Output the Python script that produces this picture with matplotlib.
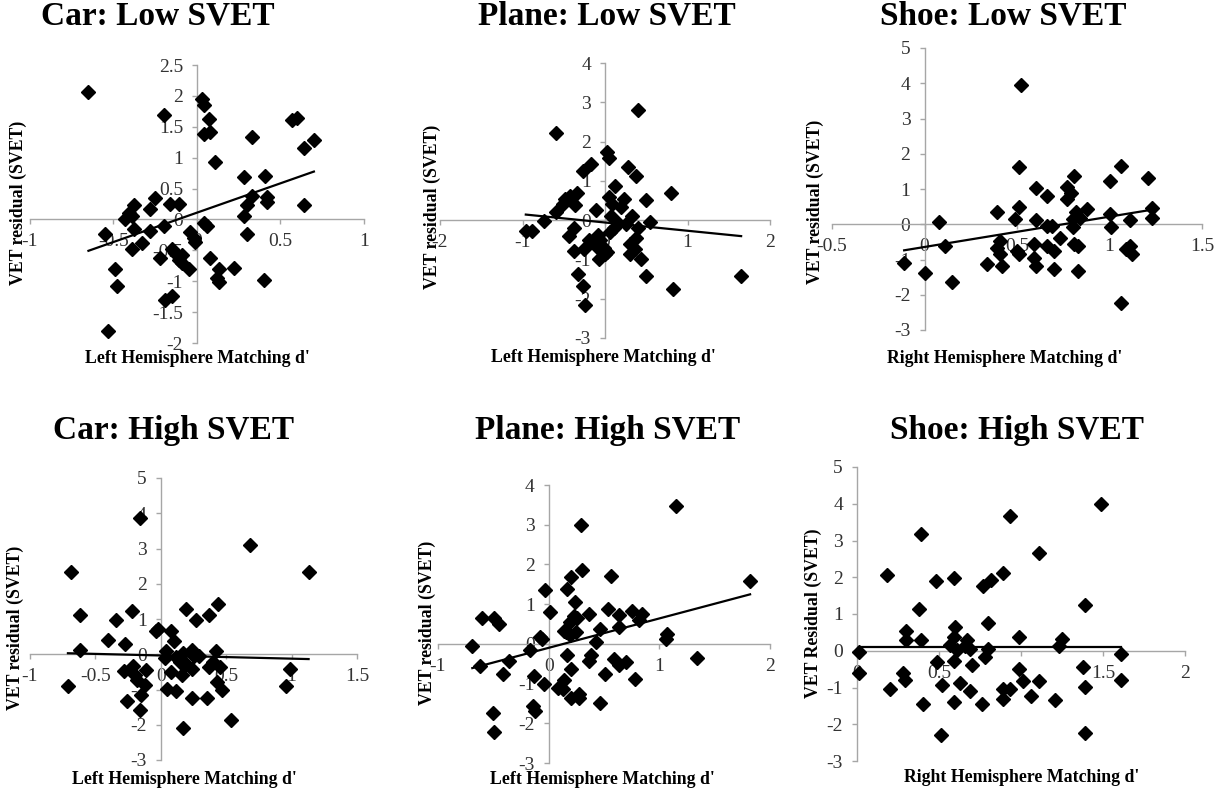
import matplotlib.pyplot as plt
import numpy as np
from matplotlib.ticker import FuncFormatter, MultipleLocator

plt.rcParams['font.family'] = ['Liberation Serif', 'DejaVu Serif']
plt.rcParams['axes.unicode_minus'] = False

W, H = 1220, 793

# --- Car, low SVET ---
car_low_x = [-0.65, -0.20, 0.03, 0.04, 0.07, 0.04, 0.08, 0.11, 0.57, 0.60, 0.64, 0.70,
             0.33, 0.28, 0.41, 0.33, 0.30, 0.28, 0.42, 0.42, 0.64, 0.30, 0.40, 0.22,
             0.13, 0.12, 0.13, 0.08, 0.04, 0.06, -0.01, -0.02, -0.04, -0.05, -0.09, -0.09,
             -0.13, -0.11, -0.15, -0.15, -0.19, -0.11, -0.16, -0.20, -0.22, -0.25, -0.28, -0.28,
             -0.33, -0.38, -0.38, -0.39, -0.43, -0.39, -0.41, -0.55, -0.49, -0.48, -0.53]
car_low_y = [2.07, 1.69, 1.95, 1.85, 1.63, 1.38, 1.41, 0.93, 1.61, 1.65, 1.16, 1.28,
             1.34, 0.68, 0.71, 0.38, 0.23, 0.06, 0.37, 0.29, 0.23, -0.24, -0.98, -0.79,
             -0.81, -0.94, -1.01, -0.63, -0.06, -0.10, -0.36, -0.30, -0.21, -0.81, -0.71, -0.57,
             -0.54, -0.65, -0.48, -1.24, -1.30, 0.25, 0.25, -0.11, -0.62, 0.34, 0.17, -0.18,
             -0.38, 0.24, -0.16, 0.05, 0.00, -0.48, 0.10, -0.23, -0.81, -1.08, -1.80]
car_low_fit = (0.95, 0.11)

# --- Plane, low SVET ---
plane_low_x = [-0.59, 0.40, 0.03, 0.05, -0.17, -0.27, 0.28, 0.37, 0.12, 0.80, 0.50, -0.34,
               -0.42, -0.48, -0.51, -0.59, -0.36, -0.11, 0.05, 0.09, 0.23, 0.19, 0.07, 0.33,
               -0.74, -0.96, -0.89, -0.38, -0.44, -0.38, -0.26, -0.20, -0.09, -0.10, -0.07, -0.01,
               0.03, 0.06, 0.11, 0.16, 0.25, 0.40, 0.54, 0.37, 0.30, 0.36, 0.30, 0.44,
               0.50, -0.33, -0.27, -0.24, 0.82, 1.65, -0.06, 0.00]
plane_low_y = [2.21, 2.81, 1.73, 1.57, 1.43, 1.25, 1.34, 1.13, 0.88, 0.70, 0.51, 0.70,
               0.62, 0.55, 0.41, 0.20, 0.38, 0.26, 0.60, 0.41, 0.53, 0.34, 0.11, 0.11,
               -0.03, -0.27, -0.27, -0.21, -0.40, -0.78, -0.74, -0.51, -0.38, -0.68, -0.98, -0.72,
               -0.81, -0.30, -0.21, -0.07, -0.10, -0.19, -0.04, -0.45, -0.61, -0.74, -0.85, -0.99,
               -1.42, -1.38, -1.68, -2.17, -1.74, -1.42, -0.51, -0.85]
plane_low_fit = (-0.21, -0.06)

# --- Shoe, low SVET ---
shoe_low_x = [0.52, 0.51, 1.06, 1.21, 1.00, 0.81, 0.77, 0.79, 0.77, 0.60, 0.66, 0.51,
              0.39, 0.49, 0.60, 0.08, 0.88, 0.82, 0.84, 0.80, 0.80, 1.00, 1.01, 1.23,
              1.23, 1.11, 0.66, 0.69, 0.73, 0.83, 0.81, 0.11, 0.41, 0.39, 0.41, 0.42,
              0.34, 0.51, 0.59, 0.66, 0.70, 0.59, 0.60, 0.70, 0.83, 1.09, 1.11, 1.12,
              1.06, 0.00, -0.11, 0.15, 0.50]
shoe_low_y = [3.95, 1.61, 1.64, 1.31, 1.23, 1.37, 1.07, 0.90, 0.73, 1.04, 0.80, 0.50,
              0.36, 0.14, 0.12, 0.05, 0.43, 0.36, 0.19, 0.14, -0.09, 0.28, -0.07, 0.45,
              0.19, 0.12, -0.05, -0.05, -0.38, -0.62, -0.55, -0.62, -0.47, -0.66, -0.85, -1.18,
              -1.12, -0.85, -0.57, -0.62, -0.76, -0.95, -1.18, -1.28, -1.34, -0.71, -0.62, -0.85,
              -2.24, -1.39, -1.09, -1.64, -0.76]
shoe_low_fit = (0.86, -0.645)

# --- Car, high SVET ---
car_high_x = [-0.16, 0.68, 1.13, -0.69, -0.62, -0.22, -0.34, -0.40, -0.27, -0.62, -0.04, -0.02,
              0.08, 0.10, 0.19, 0.27, 0.37, 0.44, 0.04, 0.03, 0.12, 0.17, 0.24, 0.29,
              0.42, 0.15, 0.24, 0.08, 0.16, 0.37, 0.40, 0.45, 0.43, 0.47, 0.05, 0.12,
              0.24, 0.35, 0.17, 0.54, 0.99, 0.96, -0.71, -0.28, -0.21, -0.11, -0.18, -0.12,
              -0.20, -0.15, -0.26, -0.16, 0.25, 0.19]
car_high_y = [3.87, 3.09, 2.33, 2.33, 1.11, 1.24, 0.96, 0.40, 0.30, 0.13, 0.67, 0.72,
              0.67, 0.37, 1.27, 0.98, 1.11, 1.43, 0.10, -0.10, -0.08, 0.04, 0.11, -0.06,
              0.09, -0.22, -0.41, -0.50, -0.58, -0.37, -0.22, -0.37, -0.79, -1.00, -0.98, -1.05,
              -1.24, -1.24, -2.09, -1.86, -0.42, -0.91, -0.91, -0.48, -0.34, -0.45, -0.72, -0.86,
              -0.60, -1.17, -1.34, -1.57, -0.06, -0.29]
car_high_fit = (-0.09, -0.035)

# --- Plane, high SVET ---
plane_high_x = [1.15, 0.29, 0.30, 0.56, 0.20, 0.17, -0.03, 1.82, 0.24, 0.01, 0.36, 0.54,
                0.64, 0.75, 0.84, 0.82, -0.60, -0.49, -0.45, 0.19, 0.23, 0.26, 0.16, 0.19,
                0.25, 0.14, 0.46, 0.64, 0.43, -0.08, -0.06, -0.69, -0.17, -0.36, -0.62, 0.17,
                0.38, 0.36, 0.59, 0.64, 0.70, 1.06, 1.07, 1.34, 0.20, -0.41, -0.13, 0.51,
                0.78, 0.14, -0.04, 0.08, 0.13, 0.27, 0.20, 0.27, 0.46, -0.14, -0.12, -0.50,
                -0.49]
plane_high_y = [3.46, 3.00, 1.85, 1.72, 1.68, 1.37, 1.35, 1.58, 1.05, 0.80, 0.76, 0.89,
                0.72, 0.82, 0.74, 0.61, 0.65, 0.65, 0.49, 0.54, 0.70, 0.64, 0.29, 0.22,
                0.29, 0.32, 0.38, 0.43, 0.05, 0.18, 0.11, -0.06, -0.16, -0.42, -0.56, -0.27,
                -0.29, -0.44, -0.39, -0.52, -0.45, 0.11, 0.26, -0.35, -0.63, -0.77, -0.81, -0.77,
                -0.88, -0.90, -1.01, -1.11, -1.13, -1.25, -1.37, -1.37, -1.50, -1.57, -1.69, -1.74,
                -2.21]
plane_high_fit = (0.74, -0.10)

# --- Shoe, high SVET ---
shoe_high_x = [1.49, 0.93, 0.39, 1.11, 0.18, 0.48, 0.59, 0.89, 0.82, 0.77, 0.38, 1.39,
               0.80, 0.30, 0.30, 0.39, 0.60, 0.59, 0.57, 0.61, 0.67, 0.69, 0.66, 0.80,
               0.99, 1.25, 1.23, 0.01, 1.61, 0.78, 0.49, 0.59, 0.70, 0.01, 0.28, 0.29,
               0.20, 0.52, 0.63, 0.69, 0.99, 1.01, 1.11, 1.38, 1.61, 1.39, 0.89, 0.93,
               0.89, 1.06, 1.21, 0.40, 0.59, 0.76, 0.51, 1.39]
shoe_high_y = [3.98, 3.66, 3.18, 2.66, 2.05, 1.91, 1.99, 2.12, 1.93, 1.75, 1.14, 1.25,
               0.75, 0.53, 0.30, 0.28, 0.64, 0.37, 0.15, 0.01, 0.28, 0.04, 0.12, 0.04,
               0.37, 0.33, 0.12, -0.04, -0.08, -0.17, -0.31, -0.28, -0.38, -0.60, -0.60, -0.79,
               -1.03, -0.93, -0.87, -1.10, -0.49, -0.83, -0.81, -0.43, -0.79, -0.99, -1.03, -1.03,
               -1.32, -1.24, -1.33, -1.44, -1.40, -1.44, -2.28, -2.23]
shoe_high_fit = (0.0, 0.10)

AXIS_GREY = '#a6a6a6'


def fig_box(x0, y0, x1, y1):
    # pixel box (top-left origin) -> figure fraction rectangle
    return [x0 / W, 1 - y1 / H, (x1 - x0) / W, (y1 - y0) / H]


def fig_text(fig, x, y, s, **kw):
    fig.text(x / W, 1 - y / H, s, ha='center', va='center', **kw)


def draw_panel(fig, box, xs, ys, fit, xlim, ylim, xstep, ystep, title, title_xy,
               xlabel, xlabel_xy, ylabel, ylabel_xy):
    ax = fig.add_axes(fig_box(*box))
    ax.set_xlim(*xlim)
    ax.set_ylim(*ylim)
    for side in ('top', 'right'):
        ax.spines[side].set_visible(False)
    for side in ('left', 'bottom'):
        ax.spines[side].set_position(('data', 0))
        ax.spines[side].set_color(AXIS_GREY)
        ax.spines[side].set_linewidth(1.0)
    ax.xaxis.set_major_locator(MultipleLocator(xstep))
    ax.yaxis.set_major_locator(MultipleLocator(ystep))
    fmt = FuncFormatter(lambda v, p: f'{v:g}')
    ax.xaxis.set_major_formatter(fmt)
    ax.yaxis.set_major_formatter(fmt)
    ax.tick_params(direction='out', length=3.6, width=1.0, color=AXIS_GREY,
                   labelsize=14, labelcolor='#333333', pad=6.5)
    ax.patch.set_alpha(0)

    ax.plot(xs, ys, ls='none', marker='D', ms=7.0, color='black', zorder=3, clip_on=False)

    # linear trend line across the range of the data
    slope, intercept = fit
    fx = np.array([min(xs), max(xs)])
    ax.plot(fx, slope * fx + intercept, color='black', lw=1.6, zorder=4)

    fig_text(fig, *title_xy, title, fontsize=24, fontweight='bold')
    fig_text(fig, *xlabel_xy, xlabel, fontsize=12.8, fontweight='bold')
    fig_text(fig, *ylabel_xy, ylabel, fontsize=12.8, fontweight='bold', rotation=90)
    return ax


fig = plt.figure(figsize=(W / 100, H / 100), dpi=100)

left_lbl = "Left Hemisphere Matching d'"
right_lbl = "Right Hemisphere Matching d'"

draw_panel(fig, (30, 65, 364, 343), car_low_x, car_low_y, car_low_fit,
           (-1, 1), (-2, 2.5), 0.5, 0.5,
           'Car: Low SVET', (158, 16), left_lbl, (197, 358),
           'VET residual (SVET)', (18, 203))

draw_panel(fig, (440, 63, 770, 338), plane_low_x, plane_low_y, plane_low_fit,
           (-2, 2), (-3, 4), 1, 1,
           'Plane: Low SVET', (607, 16), left_lbl, (603, 357),
           'VET residual (SVET)', (432, 207))

draw_panel(fig, (832, 48, 1202, 330), shoe_low_x, shoe_low_y, shoe_low_fit,
           (-0.5, 1.5), (-3, 5), 0.5, 1,
           'Shoe: Low SVET', (1003, 16), right_lbl, (1005, 358),
           'VET residual (SVET)', (815, 202))

draw_panel(fig, (30, 478, 357, 760), car_high_x, car_high_y, car_high_fit,
           (-1, 1.5), (-3, 5), 0.5, 1,
           'Car: High SVET', (174, 430), left_lbl, (184, 780),
           'VET residual (SVET)', (15, 628))

draw_panel(fig, (438, 485, 770, 763), plane_high_x, plane_high_y, plane_high_fit,
           (-1, 2), (-3, 4), 1, 1,
           'Plane: High SVET', (608, 430), left_lbl, (602, 780),
           'VET residual (SVET)', (427, 623))

draw_panel(fig, (857, 467, 1185, 761), shoe_high_x, shoe_high_y, shoe_high_fit,
           (0, 2), (-3, 5), 0.5, 1,
           'Shoe: High SVET', (1017, 430), right_lbl, (1022, 777),
           'VET Residual (SVET)', (813, 613))

fig.savefig('out.png', dpi=100)
